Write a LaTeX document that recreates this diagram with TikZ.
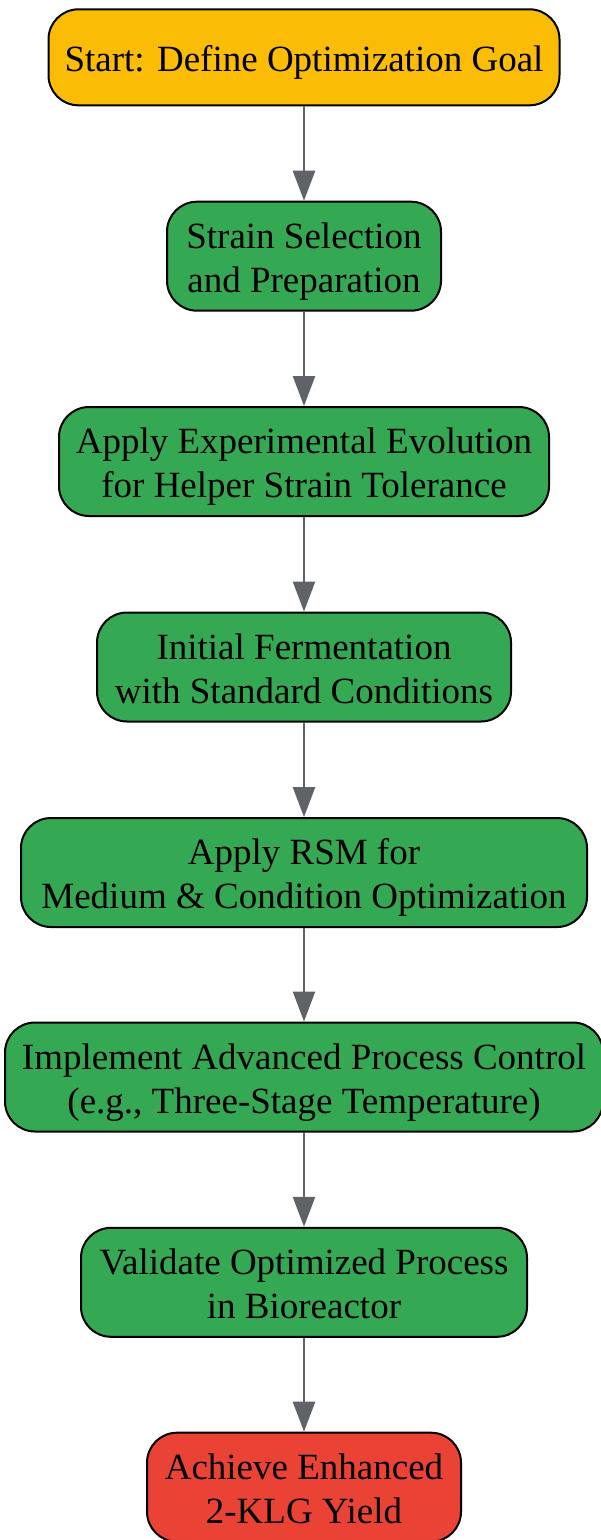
\documentclass[tikz,border=0pt]{standalone}
\usepackage{fontspec}
\setmainfont{Liberation Serif}
\usetikzlibrary{arrows.meta}
\definecolor{cyellow}{HTML}{FBBC05}
\definecolor{cgreen}{HTML}{34A853}
\definecolor{cred}{HTML}{EA4335}
\definecolor{cgray}{HTML}{5F6368}
\newcommand{\mystrut}{\rule[-8pt]{0pt}{44pt}}
\begin{document}
\begin{tikzpicture}[x=1pt,y=-1pt,
  box/.style={draw=black, line width=2pt, rounded corners=30pt, align=center,
    inner sep=0pt, font=\fontsize{37}{44}\selectfont, text=black},
  conn/.style={draw=cgray, line width=2.5pt, -{Triangle[length=30pt,width=22pt]}}]
\useasboundingbox (0,0) rectangle (600,1540);
\node[box, fill=cyellow, minimum width=511pt, minimum height=96pt] (n1) at (304,57.3) {\mystrut Start: Define Optimization Goal};
\node[box, fill=cgreen, minimum width=274pt, minimum height=109pt] (n2) at (304,256.2) {\mystrut Strain Selection\\\mystrut and Preparation};
\node[box, fill=cgreen, minimum width=490pt, minimum height=109pt] (n3) at (304,461.5) {\mystrut Apply Experimental Evolution\\\mystrut for Helper Strain Tolerance};
\node[box, fill=cgreen, minimum width=414pt, minimum height=109pt] (n4) at (304,667) {\mystrut Initial Fermentation\\\mystrut with Standard Conditions};
\node[box, fill=cgreen, minimum width=566pt, minimum height=109pt] (n5) at (304,872.5) {\mystrut Apply RSM for\\\mystrut Medium \& Condition Optimization};
\node[box, fill=cgreen, minimum width=598pt, minimum height=109pt] (n6) at (304,1077) {\mystrut Implement Advanced Process Control\\\mystrut (e.g., Three-Stage Temperature)};
\node[box, fill=cgreen, minimum width=446pt, minimum height=109pt] (n7) at (304,1282.3) {\mystrut Validate Optimized Process\\\mystrut in Bioreactor};
\node[box, fill=cred, minimum width=314pt, minimum height=109pt] (n8) at (304,1487.2) {\mystrut Achieve Enhanced\\\mystrut 2-KLG Yield};
\foreach \a/\b in {n1/n2,n2/n3,n3/n4,n4/n5,n5/n6,n6/n7,n7/n8}
  \draw[conn] (\a.south) -- (\b.north);
\end{tikzpicture}
\end{document}
